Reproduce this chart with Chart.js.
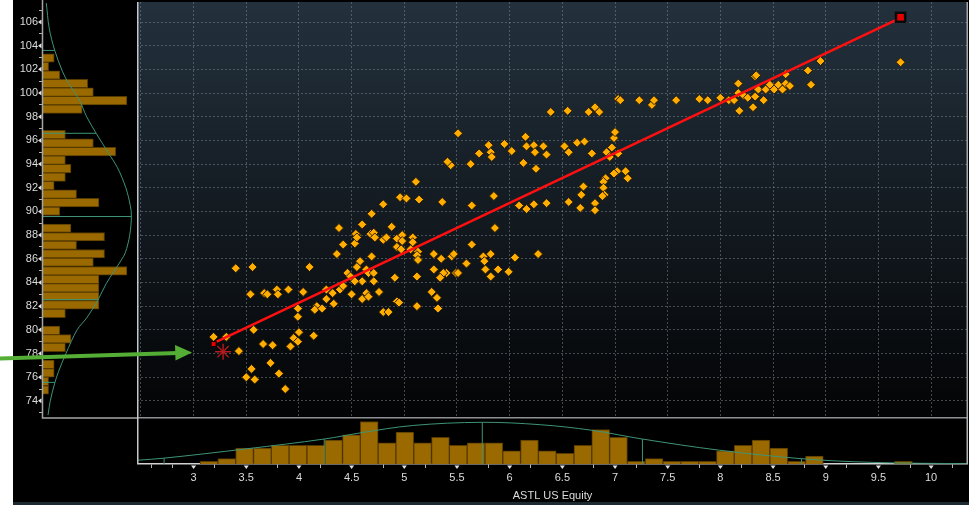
<!DOCTYPE html>
<html>
<head>
<meta charset="utf-8">
<title>ASTL US Equity</title>
<script src="https://cdn.jsdelivr.net/npm/chart.js@4.4.1/dist/chart.umd.min.js"></script>
<style>
  html, body { margin: 0; padding: 0; background: #ffffff; width: 975px; height: 505px; overflow: hidden; }
  #frame { position: absolute; left: 13px; top: 0; width: 956px; height: 505px; background: #000; }
  #strip { position: absolute; left: 13px; top: 502px; width: 956px; height: 3px; background: #1c2931; }
  canvas { position: absolute; }
</style>
</head>
<body>
<div id="frame"></div>
<div id="strip"></div>
<canvas id="leftChart" width="137" height="419" style="left:0;top:0"></canvas>
<canvas id="mainChart" width="831" height="418" style="left:137px;top:0"></canvas>
<canvas id="bottomChart" width="831" height="88" style="left:137px;top:417px"></canvas>
<script>
const obsPairs = [
  [3.19,79.4],[3.31,79.4],[3.43,78.2],[3.40,85.2],[3.56,85.3],[3.54,83.0],[3.67,83.1],[3.70,83.0],
  [3.79,83.4],[3.80,83.0],[3.90,83.4],[4.04,83.2],[3.57,80.0],[3.66,78.8],[3.75,78.7],[3.55,76.7],
  [3.50,76.0],[3.58,75.8],[3.73,77.2],[3.81,76.3],[3.87,75.0],[4.00,79.8],[3.95,79.3],[3.99,79.0],
  [3.92,78.6],[4.14,79.5],[3.99,81.8],[3.99,81.1],[4.10,85.3],[4.17,82.0],[4.15,81.7],[4.22,81.8],
  [4.26,82.6],[4.26,83.4],[4.32,83.1],[4.33,82.2],[4.39,83.4],[4.42,83.7],[4.36,86.4],[4.42,87.2],
  [4.53,87.3],[4.55,88.0],[4.50,83.0],[4.46,84.8],[4.49,84.5],[4.55,85.3],[4.58,85.8],[4.60,84.1],
  [4.53,84.1],[4.64,85.1],[4.66,84.8],[4.60,82.6],[4.64,83.1],[4.66,82.8],[4.71,84.8],[4.71,84.1],
  [4.76,83.2],[4.69,86.2],[4.80,81.5],[4.85,81.5],[4.91,84.4],[4.93,82.4],[5.11,92.5],[4.96,91.2],
  [5.02,91.1],[5.14,91.0],[4.80,90.6],[4.69,89.8],[4.60,88.9],[4.38,88.6],[4.54,88.1],[4.55,87.8],
  [4.68,88.1],[4.71,88.2],[4.72,87.8],[4.80,87.6],[4.83,87.8],[4.88,88.7],[4.93,87.7],[4.98,88.0],
  [4.98,87.5],[5.08,87.8],[5.08,87.4],[4.93,87.0],[4.97,86.8],[5.06,86.8],[5.13,86.6],[5.12,86.3],
  [5.13,85.9],[5.28,86.4],[5.35,86.0],[5.45,86.2],[5.47,86.4],[5.28,85.1],[5.40,84.8],[5.37,84.8],
  [5.34,84.4],[5.49,84.8],[5.51,84.8],[5.59,85.6],[5.64,87.2],[5.75,86.2],[5.76,85.8],[5.77,85.1],
  [5.82,86.4],[5.82,84.5],[5.89,85.1],[5.99,84.9],[6.05,86.1],[5.86,88.6],[5.36,90.8],[5.64,90.5],
  [5.85,91.3],[5.44,93.9],[5.41,94.2],[5.63,94.0],[5.26,83.2],[5.31,82.7],[5.32,81.8],[5.12,82.0],
  [4.95,82.3],[5.12,84.5],[5.51,96.6],[5.80,95.6],[5.95,95.7],[5.71,94.9],[5.82,95.0],[5.83,94.6],
  [6.02,95.1],[6.15,96.3],[6.16,95.5],[6.23,95.6],[6.24,95.0],[6.32,95.5],[6.35,94.8],[6.13,94.1],
  [6.25,93.6],[6.52,95.5],[6.56,95.0],[6.64,95.8],[6.71,95.9],[6.78,94.9],[6.92,95.0],[6.95,94.6],
  [6.97,95.4],[6.99,96.2],[7.00,96.7],[7.03,94.9],[7.02,93.4],[6.99,93.2],[7.10,93.4],[7.12,92.8],
  [6.91,92.8],[6.89,92.5],[6.89,92.0],[6.90,91.4],[6.88,91.3],[6.70,92.1],[6.68,91.4],[6.81,90.7],
  [6.81,90.1],[6.67,90.3],[6.56,90.8],[6.35,90.7],[6.23,90.6],[6.16,90.2],[6.09,90.5],[6.27,86.4],
  [6.39,98.4],[6.55,98.5],[6.75,98.4],[6.81,98.8],[6.85,98.4],[7.03,99.5],[7.05,99.4],[7.23,99.4],
  [7.35,99.0],[7.37,99.4],[7.58,99.4],[7.80,99.5],[7.88,99.4],[8.00,99.6],[8.08,99.4],[8.13,99.4],
  [8.17,100.8],[8.17,100.0],[8.18,98.5],[8.22,99.8],[8.26,99.6],[8.31,98.8],[8.33,99.7],[8.33,101.4],
  [8.34,101.5],[8.36,100.3],[8.41,99.4],[8.43,100.3],[8.47,100.7],[8.51,100.3],[8.55,100.7],[8.59,100.3],
  [8.62,100.8],[8.62,101.6],[8.66,100.6],[8.83,101.9],[8.86,100.7],[8.95,102.7],[9.71,102.6]
];

// special points
const latestPoint = [9.71, 106.4];
const firstPoint = [3.19, 78.8];
const markerPoint = [3.28, 78.15];
const fitLine = [[3.22, 79.0], [9.71, 106.35]];

// x histogram (bottom panel)
const xBins = [3.146,3.315,3.484,3.653,3.822,3.991,4.160,4.329,4.498,4.667,4.836,5.005,5.174,5.343,
  5.512,5.681,5.850,6.019,6.188,6.357,6.526,6.695,6.864,7.033,7.202,7.371,7.540,7.709,7.878,8.047,
  8.216,8.385,8.554,8.723,8.892,9.061,9.230,9.399,9.568,9.737];
const xCounts = [1,2,6,6,7,7,7,9,11,16,8,12,8,10,7,8,8,5,9,5,4,7,13,10,1,2,1,1,1,5,7,9,6,1,3,0,0,0,0,1];
const xCurveX = [2.46,2.72,3.5,4.24,4.58,5.08,5.74,6.29,6.78,7.26,7.99,8.77,9.45,10.34];
const xCurveY = [1.4,2.2,5.7,9.4,11.7,14.5,15.7,14.8,12.7,9.4,5.2,2.0,0.6,0.1];
const xSdAt = [2.72, 4.24, 5.74, 7.26, 8.77];
const xSdH = [2.2, 9.4, 15.7, 9.4, 2.0];

// y histogram (left panel)
const yBins = [102.96,102.241,101.522,100.803,100.084,99.365,98.646,97.927,97.208,96.489,95.770,
  95.051,94.332,93.613,92.894,92.175,91.456,90.737,90.018,89.299,88.580,87.861,87.142,86.423,85.704,
  84.985,84.266,83.547,82.828,82.109,81.390,80.671,79.952,79.233,78.514,77.795,77.076,76.357,75.638,74.919];
const yCounts = [2,1,3,8,9,15,7,0,0,4,9,13,4,5,4,2,6,10,3,0,5,11,6,11,9,15,10,10,10,10,4,0,3,5,4,0,2,2,1,1];
const yCurveY = [107.6,105.5,103.6,101.8,100.8,99.3,98.0,96.6,95.0,93.7,92.0,90.5,89.6,88.0,86.5,85.9,
  83.9,82.5,81.0,80.0,78.0,76.5,75.5,74.0,72.8];
const yCurveC = [0.6,1.1,2.1,3.5,4.6,6.6,7.8,9.5,11.6,13.3,14.8,15.6,15.8,15.5,14.7,14.0,11.3,9.8,7.8,6.1,4.1,2.8,2.1,1.3,0.9];
const ySdAt = [103.6, 96.6, 89.57, 82.55, 75.56];
const ySdW = [2.1, 9.5, 15.8, 9.8, 2.1];

// axes
const xMajorTicks = [3,3.5,4,4.5,5,5.5,6,6.5,7,7.5,8,8.5,9,9.5,10];
const xMinorTicks = [2.6,2.8,3.2,3.8,4.2,4.8,5.2,5.8,6.2,6.8,7.2,7.8,8.2,8.8,9.2,9.8,10.2];
const xGridLines = [2.5,3,3.5,4,4.5,5,5.5,6,6.5,7,7.5,8,8.5,9,9.5,10];
const yMajorTicks = [74,76,78,80,82,84,86,88,90,92,94,96,98,100,102,104,106];
const yMinorTicks = [73,75,77,79,81,83,85,87,89,91,93,95,97,99,101,103,105,107];
const xMin = 2.463, xMax = 10.35, yMin = 72.72, yMax = 107.69;

const barFill = "#9a6a00";
const barEdge = "#553a00";
const curveColor = "rgb(62,148,118)";
const arrowColor = "#54ae36";
const labelColor = "#dcdcdc";

Chart.defaults.font.family = "'Liberation Sans', Arial, sans-serif";
Chart.defaults.font.size = 11;

function drawArrow(ctx, ox, oy) {
  ctx.save();
  ctx.translate(-ox, -oy);
  ctx.strokeStyle = arrowColor;
  ctx.lineWidth = 4;
  ctx.beginPath();
  ctx.moveTo(0, 358.5);
  ctx.lineTo(178, 353);
  ctx.stroke();
  ctx.fillStyle = arrowColor;
  ctx.beginPath();
  ctx.moveTo(192, 352.5);
  ctx.lineTo(175, 345);
  ctx.lineTo(175.5, 360.5);
  ctx.closePath();
  ctx.fill();
  ctx.restore();
}

function sdSegments(at, len, horizontal) {
  const pts = [];
  at.forEach((v, i) => {
    if (horizontal) {
      pts.push({ x: 0, y: v }, { x: len[i], y: v }, { x: null, y: v });
    } else {
      pts.push({ x: v, y: 0 }, { x: v, y: len[i] }, { x: v, y: null });
    }
  });
  return pts;
}

// ---------- main scatter ----------
const mainPanel = {
  id: "mainPanel",
  beforeDraw(chart) {
    const { ctx, chartArea: a } = chart;
    const g = ctx.createLinearGradient(0, a.top, 0, a.bottom);
    g.addColorStop(0, "#23313d");
    g.addColorStop(0.45, "#151d24");
    g.addColorStop(1, "#030405");
    ctx.save();
    ctx.fillStyle = g;
    ctx.fillRect(a.left, a.top, a.width, a.height);
    ctx.restore();
  },
  afterDraw(chart) {
    const { ctx, chartArea: a } = chart;
    ctx.save();
    ctx.lineWidth = 1.5;
    ctx.strokeStyle = "#c4c7ca";
    ctx.beginPath();
    ctx.moveTo(a.left + 0.75, a.top);
    ctx.lineTo(a.left + 0.75, a.bottom + 2);
    ctx.stroke();
    ctx.strokeStyle = "#a3a8ac";
    ctx.beginPath();
    ctx.moveTo(a.right - 0.75, a.top);
    ctx.lineTo(a.right - 0.75, a.bottom + 2);
    ctx.stroke();
    ctx.restore();
    drawArrow(ctx, 137, 0);
  }
};

new Chart(document.getElementById("mainChart"), {
  type: "scatter",
  data: {
    datasets: [
      {
        label: "latest",
        data: [{ x: latestPoint[0], y: latestPoint[1] }],
        pointStyle: "rect",
        pointRadius: 6.5,
        backgroundColor: "#e50000",
        borderColor: "#0a0a0a",
        borderWidth: 2.5,
        order: 0
      },
      {
        label: "first",
        data: [{ x: firstPoint[0], y: firstPoint[1] }],
        pointStyle: "rect",
        pointRadius: 3.5,
        backgroundColor: "#e50000",
        borderColor: "#1a0000",
        borderWidth: 1,
        order: 0
      },
      {
        label: "marker",
        data: [{ x: markerPoint[0], y: markerPoint[1] }],
        pointStyle: "star",
        pointRadius: 8,
        backgroundColor: "#b4191b",
        borderColor: "#b4191b",
        borderWidth: 1.4,
        order: 0
      },
      {
        label: "fit",
        data: fitLine.map(p => ({ x: p[0], y: p[1] })),
        showLine: true,
        borderColor: "#ff1010",
        borderWidth: 2.5,
        pointRadius: 0,
        order: 1
      },
      {
        label: "ASTL",
        data: obsPairs.map(p => ({ x: p[0], y: p[1] })),
        pointStyle: "rectRot",
        pointRadius: 4.5,
        backgroundColor: "#ffad00",
        borderColor: "rgba(40,25,0,0.95)",
        borderWidth: 1,
        order: 2
      }
    ]
  },
  options: {
    responsive: false,
    animation: false,
    layout: { autoPadding: false, padding: { top: 2, bottom: 2, left: 0, right: 0 } },
    plugins: { legend: { display: false }, tooltip: { enabled: false } },
    scales: {
      x: {
        type: "linear",
        min: xMin,
        max: xMax,
        afterBuildTicks: s => { s.ticks = xGridLines.map(v => ({ value: v })); },
        ticks: { display: false },
        grid: { color: "rgba(128,138,148,0.5)", drawTicks: false },
        border: { display: false, dash: [2, 2] }
      },
      y: {
        type: "linear",
        min: yMin,
        max: yMax,
        afterBuildTicks: s => { s.ticks = yMajorTicks.map(v => ({ value: v })); },
        ticks: { display: false },
        grid: { color: "rgba(128,138,148,0.5)", drawTicks: false },
        border: { display: false, dash: [2, 2] }
      }
    }
  },
  plugins: [mainPanel]
});

// ---------- left histogram ----------
const leftPanel = {
  id: "leftPanel",
  afterDraw(chart) {
    const { ctx, chartArea: a } = chart;
    const s = chart.scales.y;
    ctx.save();
    ctx.strokeStyle = "#a5a5a5";
    ctx.lineWidth = 1.5;
    ctx.beginPath();
    ctx.moveTo(a.left - 0.5, 0);
    ctx.lineTo(a.left - 0.5, 418);
    ctx.lineTo(a.right, 418);
    ctx.stroke();
    ctx.fillStyle = "#e2e2e2";
    yMajorTicks.forEach(v => {
      const py = s.getPixelForValue(v);
      ctx.beginPath();
      ctx.moveTo(a.left - 5, py);
      ctx.lineTo(a.left - 1.5, py - 2.5);
      ctx.lineTo(a.left - 1.5, py + 2.5);
      ctx.closePath();
      ctx.fill();
    });
    ctx.restore();
    drawArrow(ctx, 0, 0);
  }
};

new Chart(document.getElementById("leftChart"), {
  type: "bar",
  data: {
    datasets: [
      {
        type: "line",
        data: yCurveY.map((v, i) => ({ x: yCurveC[i], y: v })),
        borderColor: curveColor,
        borderWidth: 1,
        pointRadius: 0,
        tension: 0.35,
        order: 0
      },
      {
        type: "line",
        data: sdSegments(ySdAt, ySdW, true),
        borderColor: curveColor,
        borderWidth: 1,
        pointRadius: 0,
        spanGaps: false,
        order: 0
      },
      {
        type: "bar",
        data: yBins.map((b, i) => ({ x: yCounts[i], y: b })),
        backgroundColor: barFill,
        borderColor: barEdge,
        borderWidth: 1,
        barPercentage: 1,
        categoryPercentage: 1,
        order: 1
      }
    ]
  },
  options: {
    indexAxis: "y",
    responsive: false,
    animation: false,
    layout: { autoPadding: false, padding: { top: 2, bottom: 3, left: 0, right: 0 } },
    plugins: { legend: { display: false }, tooltip: { enabled: false } },
    scales: {
      x: { type: "linear", min: 0, max: 16.8, display: false },
      y: {
        type: "linear",
        position: "left",
        min: yMin,
        max: yMax,
        offset: false,
        afterFit: s => { s.width = 43; s.paddingTop = 0; s.paddingBottom = 0; },
        afterBuildTicks: s => {
          s.ticks = yMajorTicks.concat(yMinorTicks).sort((a, b) => a - b).map(v => ({ value: v }));
        },
        ticks: {
          autoSkip: false,
          color: labelColor,
          padding: 1,
          callback: v => (v % 2 === 0 ? String(v) : "")
        },
        grid: {
          offset: false,
          drawOnChartArea: false,
          tickLength: 4,
          tickColor: c => (c.tick && c.tick.value % 2 === 0 ? "rgba(0,0,0,0)" : "#b5b5b5")
        },
        border: { display: false }
      }
    }
  },
  plugins: [leftPanel]
});

// ---------- bottom histogram ----------
const bottomPanel = {
  id: "bottomPanel",
  afterDraw(chart) {
    const { ctx, chartArea: a } = chart;
    const s = chart.scales.x;
    ctx.save();
    ctx.lineWidth = 1.5;
    ctx.strokeStyle = "#8e9296";
    ctx.beginPath();
    ctx.moveTo(a.left, a.top + 0.75);
    ctx.lineTo(a.right, a.top + 0.75);
    ctx.stroke();
    ctx.strokeStyle = "#c4c7ca";
    ctx.beginPath();
    ctx.moveTo(a.left + 0.75, a.top);
    ctx.lineTo(a.left + 0.75, a.bottom);
    ctx.stroke();
    ctx.strokeStyle = "#b0b3b6";
    ctx.beginPath();
    ctx.moveTo(a.right - 0.75, a.top);
    ctx.lineTo(a.right - 0.75, a.bottom);
    ctx.stroke();
    ctx.fillStyle = "#e2e2e2";
    xMajorTicks.forEach(v => {
      const px = s.getPixelForValue(v);
      ctx.beginPath();
      ctx.moveTo(px - 2.5, a.bottom + 1.5);
      ctx.lineTo(px + 2.5, a.bottom + 1.5);
      ctx.lineTo(px, a.bottom + 5);
      ctx.closePath();
      ctx.fill();
    });
    ctx.restore();
  }
};

new Chart(document.getElementById("bottomChart"), {
  type: "bar",
  data: {
    datasets: [
      {
        type: "line",
        data: xCurveX.map((v, i) => ({ x: v, y: xCurveY[i] })),
        borderColor: curveColor,
        borderWidth: 1,
        pointRadius: 0,
        tension: 0.35,
        order: 0
      },
      {
        type: "line",
        data: sdSegments(xSdAt, xSdH, false),
        borderColor: curveColor,
        borderWidth: 1,
        pointRadius: 0,
        spanGaps: false,
        order: 0
      },
      {
        type: "bar",
        data: xBins.map((b, i) => ({ x: b, y: xCounts[i] })),
        backgroundColor: barFill,
        borderColor: barEdge,
        borderWidth: 1,
        barPercentage: 1,
        categoryPercentage: 1,
        order: 1
      }
    ]
  },
  options: {
    responsive: false,
    animation: false,
    layout: { autoPadding: false, padding: 0 },
    plugins: { legend: { display: false }, tooltip: { enabled: false } },
    scales: {
      x: {
        type: "linear",
        min: xMin,
        max: xMax,
        offset: false,
        afterFit: s => { s.height = 41; s.paddingLeft = 0; s.paddingRight = 0; },
        afterBuildTicks: s => {
          s.ticks = xMajorTicks.concat(xMinorTicks).sort((a, b) => a - b).map(v => ({ value: v }));
        },
        ticks: {
          autoSkip: false,
          maxRotation: 0,
          color: labelColor,
          padding: 3,
          callback: v => (xMajorTicks.includes(v) ? String(v) : "")
        },
        grid: {
          offset: false,
          drawOnChartArea: false,
          tickLength: 4,
          tickColor: c => (c.tick && xMajorTicks.includes(c.tick.value) ? "rgba(0,0,0,0)" : "#b5b5b5")
        },
        border: { display: true, color: "#d2d2d2", width: 1.5 },
        title: {
          display: true,
          text: "ASTL US Equity",
          color: labelColor,
          font: { size: 11 },
          padding: { top: 0, bottom: 2 }
        }
      },
      y: { type: "linear", min: 0, max: 17.7, display: false }
    }
  },
  plugins: [bottomPanel]
});
</script>
</body>
</html>
